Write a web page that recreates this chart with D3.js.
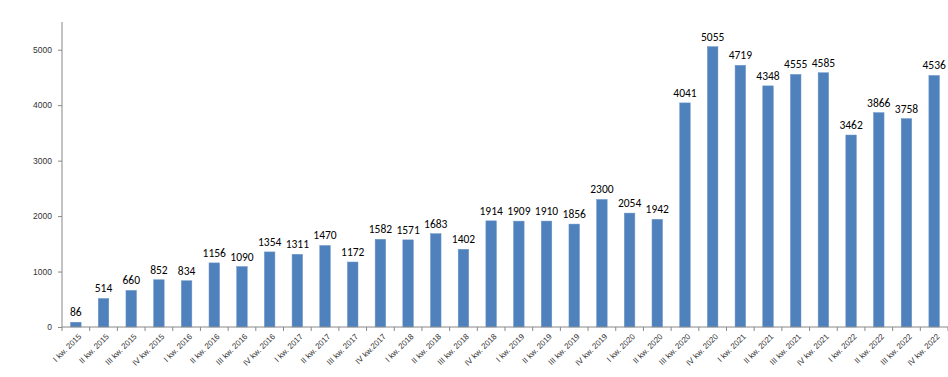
<!DOCTYPE html>
<html>
<head>
<meta charset="utf-8">
<script src="https://cdn.jsdelivr.net/npm/d3@7"></script>
<style>
    body { margin: 0; background: #fff; }
    #chart text { font-family: "Liberation Sans", Arial, sans-serif; }
    #chart text.val { font-family: Calibri, Carlito, "Open Sans", sans-serif; }
</style>
</head>
<body>
<div id="chart"></div>
<script>
var labels = [
    "I kw. 2015", "II kw. 2015", "III kw. 2015", "IV kw. 2015",
    "I kw. 2016", "II kw. 2016", "III kw. 2016", "IV kw. 2016",
    "I kw. 2017", "II kw. 2017", "III kw. 2017", "IV kw.2017",
    "I kw. 2018", "II kw. 2018", "III kw. 2018", "IV kw. 2018",
    "I kw. 2019", "II kw. 2019", "III kw. 2019", "IV kw. 2019",
    "I kw. 2020", "II kw. 2020", "III kw. 2020", "IV kw. 2020",
    "I kw. 2021", "II kw. 2021", "III kw. 2021", "IV kw. 2021",
    "I kw. 2022", "II kw. 2022", "III kw. 2022", "IV kw. 2022"
];
var values = [
    86, 514, 660, 852,
    834, 1156, 1090, 1354,
    1311, 1470, 1172, 1582,
    1571, 1683, 1402, 1914,
    1909, 1910, 1856, 2300,
    2054, 1942, 4041, 5055,
    4719, 4348, 4555, 4585,
    3462, 3866, 3758, 4536
];
var yTicks = [0, 1000, 2000, 3000, 4000, 5000];

var data = labels.map(function(l, i) { return {label: l, value: values[i]}; });

var margin = {top: 22, right: 0, bottom: 50, left: 62};
var svgWidth = 948, svgHeight = 377;
var width = svgWidth - margin.left - margin.right;
var height = svgHeight - margin.top - margin.bottom;

var svg = d3.select("#chart")
    .append("svg")
    .attr("width", svgWidth)
    .attr("height", svgHeight)
    .append("g")
    .attr("transform", "translate(" + margin.left + "," + margin.top + ")");

var x = d3.scaleBand().domain(labels).range([0, width]).paddingInner(0.62).paddingOuter(0.31);
var y = d3.scaleLinear().domain([0, 5500]).range([height, 0]);

// bars
svg.selectAll(".bar")
    .data(data)
    .enter().append("rect")
    .attr("class", "bar")
    .attr("x", d => x(d.label))
    .attr("y", d => y(d.value))
    .attr("width", x.bandwidth())
    .attr("height", d => height - y(d.value))
    .style("fill", "#4F81BD")
    .style("stroke", "#6a95c8")
    .style("stroke-width", 0.5);

// value labels
svg.selectAll(".val")
    .data(data)
    .enter().append("text")
    .attr("class", "val")
    .attr("x", d => x(d.label) + x.bandwidth() / 2)
    .attr("y", d => y(d.value) - 6)
    .attr("text-anchor", "middle")
    .style("font-size", "11.5px")
    .style("fill", "#000")
    .text(d => d.value);

// y axis
var yAxis = svg.append("g")
    .attr("class", "y-axis")
    .call(d3.axisLeft(y).tickValues(yTicks).tickFormat(d3.format("d")).tickSize(4).tickPadding(6));
yAxis.select(".domain").attr("stroke", "#888").attr("d", "M0," + height + "V0");
yAxis.selectAll(".tick line").attr("stroke", "#888");
yAxis.selectAll("text").style("font-size", "8.5px").style("fill", "#333");

// x axis with ticks between categories
var step = x.step();
var xAxis = svg.append("g")
    .attr("class", "x-axis")
    .attr("transform", "translate(0," + height + ")");
xAxis.append("line")
    .attr("x1", 0).attr("x2", width)
    .attr("stroke", "#888");
xAxis.selectAll(".xtick")
    .data(d3.range(labels.length + 1))
    .enter().append("line")
    .attr("class", "xtick")
    .attr("x1", i => i * step)
    .attr("x2", i => i * step)
    .attr("y1", 0).attr("y2", 4)
    .attr("stroke", "#888");

xAxis.selectAll(".xlabel")
    .data(data)
    .enter().append("text")
    .attr("class", "xlabel")
    .attr("transform", d => "translate(" + (x(d.label) + x.bandwidth() / 2 + 4) + ",8) rotate(-45)")
    .attr("text-anchor", "end")
    .attr("dy", "0.35em")
    .style("font-size", "8px")
    .style("fill", "#333")
    .text(d => d.label);
</script>
</body>
</html>
